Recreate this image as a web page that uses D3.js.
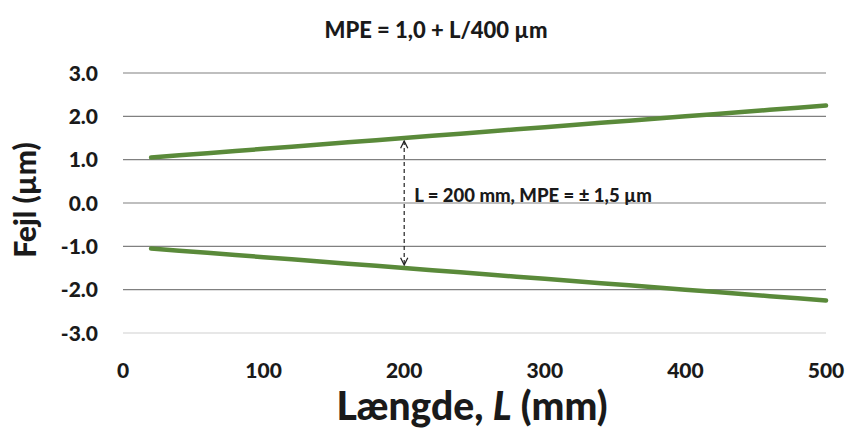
<!DOCTYPE html>
<html><head><meta charset="utf-8">
<script src="https://cdn.jsdelivr.net/npm/d3@7"></script>
<style>body{margin:0;background:#fff}svg{display:block}</style>
</head><body>
<script>
const lengths = [20,40,60,80,100,120,140,160,180,200,220,240,260,280,300,320,340,360,380,400,420,440,460,480,500];
const upperMPE = [1.05,1.10,1.15,1.20,1.25,1.30,1.35,1.40,1.45,1.50,1.55,1.60,1.65,1.70,1.75,1.80,1.85,1.90,1.95,2.00,2.05,2.10,2.15,2.20,2.25];
const lowerMPE = [-1.05,-1.10,-1.15,-1.20,-1.25,-1.30,-1.35,-1.40,-1.45,-1.50,-1.55,-1.60,-1.65,-1.70,-1.75,-1.80,-1.85,-1.90,-1.95,-2.00,-2.05,-2.10,-2.15,-2.20,-2.25];
const xTicks = [0,100,200,300,400,500];
const yTicks = [3,2,1,0,-1,-2,-3];
const annotL = 200, annotMPE = 1.5;

const W=851,H=430;
const svg=d3.select("body").append("svg").attr("width",W).attr("height",H);
const font="Lato, 'Open Sans', sans-serif";
const ink="#1a1a1a";
const x=d3.scaleLinear().domain([0,500]).range([123,826]);
const y=d3.scaleLinear().domain([-3,3]).range([333,73]);

svg.append("g").selectAll("line").data(yTicks).join("line")
  .attr("x1",x(0)).attr("x2",x(500)).attr("y1",d=>y(d)).attr("y2",d=>y(d))
  .attr("stroke",d=>d===-3?"#cfcfcf":"#808080").attr("stroke-width",1.2);

svg.append("g").selectAll("text").data(yTicks).join("text")
  .attr("x",98).attr("y",d=>y(d)).attr("dy","0.36em").attr("text-anchor","end")
  .attr("font-family",font).attr("font-weight","900").attr("font-size",21).attr("fill",ink)
  .text(d=>d3.format(".1f")(d).replace("−","-"));

svg.append("g").selectAll("text").data(xTicks).join("text")
  .attr("x",d=>x(d)).attr("y",378).attr("text-anchor","middle")
  .attr("font-family",font).attr("font-weight","900").attr("font-size",21).attr("fill",ink)
  .text(d=>d);

const line=d3.line().x((d,i)=>x(lengths[i])).y(d=>y(d));
[upperMPE,lowerMPE].forEach(s=>{
  svg.append("path").datum(s).attr("d",line).attr("fill","none")
    .attr("stroke","#5a8a3a").attr("stroke-width",4.5).attr("stroke-linecap","round");
});

svg.append("defs").append("marker").attr("id","arr").attr("viewBox","0 0 10 10")
  .attr("refX",9).attr("refY",5).attr("markerWidth",9).attr("markerHeight",9).attr("orient","auto-start-reverse")
  .attr("markerUnits","userSpaceOnUse")
  .append("path").attr("d","M1,1 L9,5 L1,9").attr("fill","none").attr("stroke","#222").attr("stroke-width",1.4);
svg.append("line").attr("x1",x(annotL)).attr("x2",x(annotL))
  .attr("y1",y(annotMPE)+3).attr("y2",y(-annotMPE)-3)
  .attr("stroke","#222").attr("stroke-width",1.2).attr("stroke-dasharray","4,3")
  .attr("marker-start","url(#arr)").attr("marker-end","url(#arr)");
svg.append("text").attr("x",x(annotL)+10).attr("y",y(0)-1)
  .attr("font-family",font).attr("font-weight","900").attr("font-size",18.5).attr("fill",ink)
  .text("L = 200 mm, MPE = ± 1,5 µm");

svg.append("text").attr("x",436).attr("y",38).attr("text-anchor","middle")
  .attr("font-family",font).attr("font-weight","900").attr("font-size",22).attr("fill",ink)
  .text("MPE = 1,0 + L/400 µm");

const xt=svg.append("text").attr("x",472).attr("y",420).attr("text-anchor","middle")
  .attr("font-family",font).attr("font-weight","900").attr("font-size",39).attr("fill",ink);
xt.append("tspan").text("Længde, ");
xt.append("tspan").attr("font-style","italic").text("L");
xt.append("tspan").text(" (mm)");

svg.append("text").attr("transform","translate(36,200) rotate(-90)").attr("text-anchor","middle")
  .attr("font-family",font).attr("font-weight","900").attr("font-size",30).attr("fill",ink)
  .text("Fejl (µm)");
</script>
</body></html>
